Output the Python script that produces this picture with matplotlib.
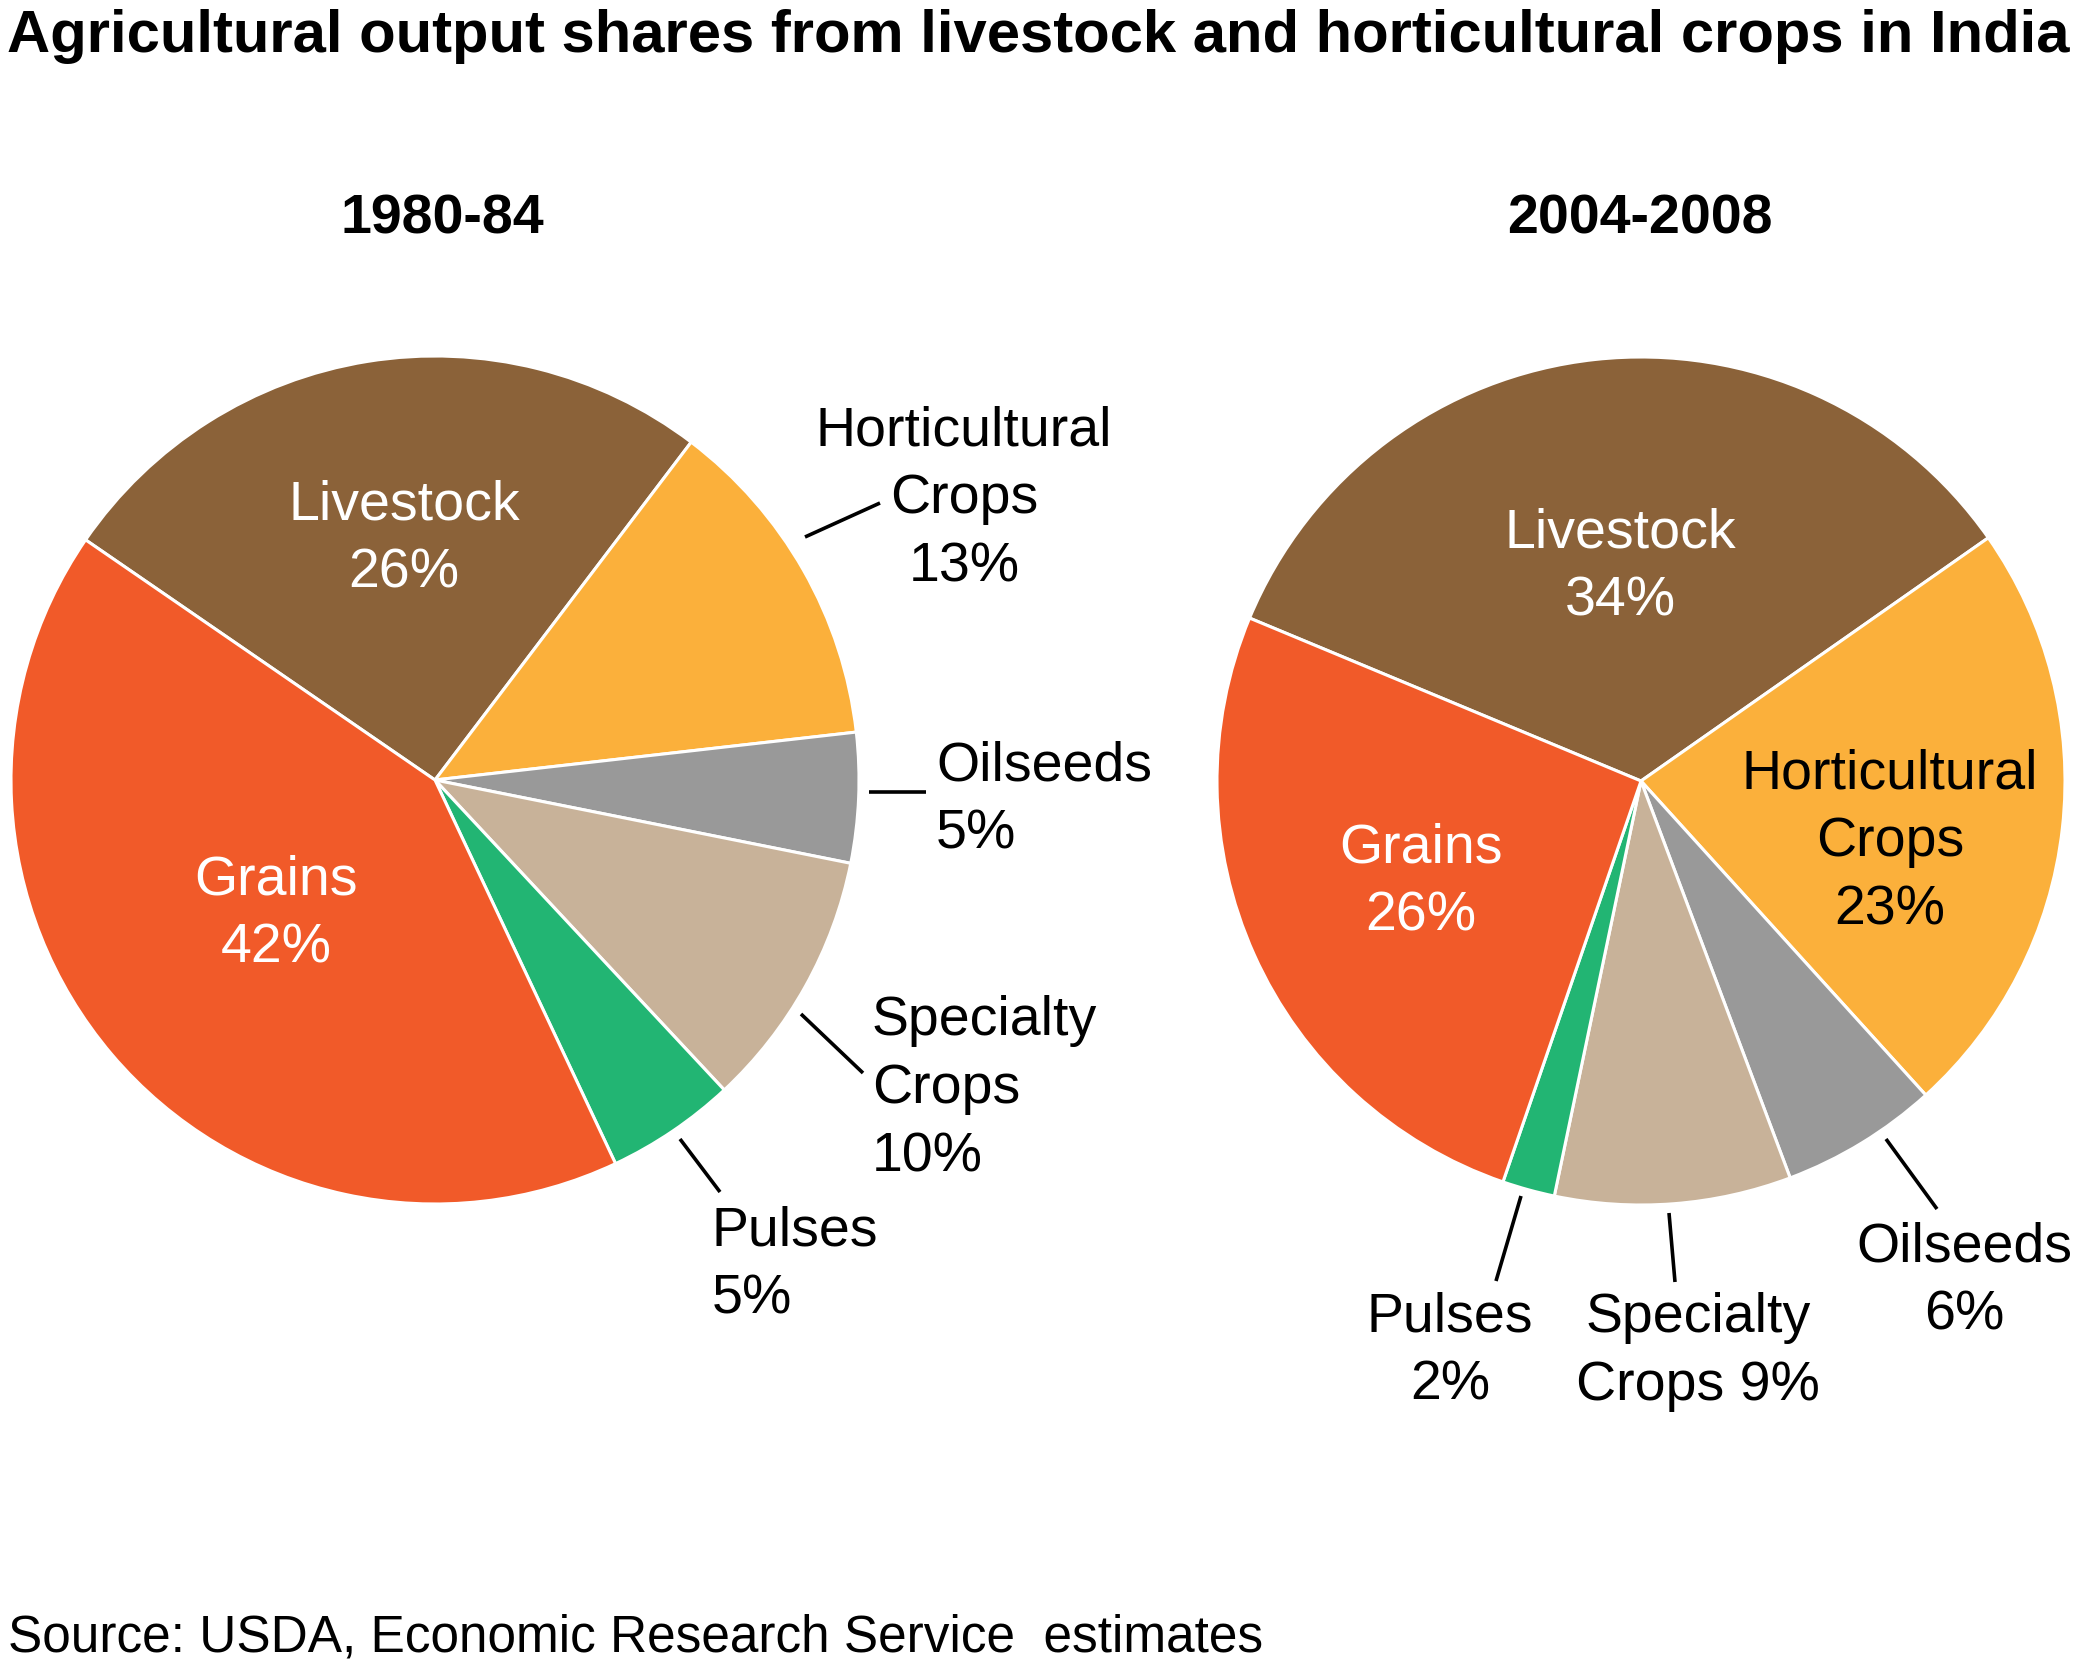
import matplotlib
matplotlib.use("Agg")
import matplotlib.pyplot as plt

plt.rcParams['font.family'] = ['Liberation Sans', 'DejaVu Sans']

# Dados
setores = ['Livestock', 'Horticultural Crops', 'Oilseeds', 'Specialty Crops', 'Pulses', 'Grains']
cores = ['#8B6239', '#FBB03B', '#999999', '#C8B299', '#22B573', '#F15A29']
valores_1980 = [26, 13, 5, 10, 5, 42]
valores_2004 = [34, 23, 6, 9, 2, 26]

W, H = 2079, 1666
fig = plt.figure(figsize=(W / 100, H / 100), dpi=100)
ax = fig.add_axes([0, 0, 1, 1])


def y(v):
    # coordenadas de cima para baixo, em pixels
    return H - v


# Pizzas
ax.pie(valores_1980, colors=cores, startangle=145.5, counterclock=False,
       center=(435, y(780)), radius=424,
       wedgeprops=dict(edgecolor='white', linewidth=2.2))
ax.pie(valores_2004, colors=cores, startangle=157.4, counterclock=False,
       center=(1641, y(781)), radius=424,
       wedgeprops=dict(edgecolor='white', linewidth=2.2))

ax.set_xlim(0, W)
ax.set_ylim(0, H)
ax.set_aspect('equal')
ax.axis('off')

FS = 40
PASSO = 68


def rotulo(linhas, x, base, ha='center', cor='black'):
    for i, t in enumerate(linhas):
        ax.text(x, y(base + i * PASSO), t, ha=ha, va='baseline',
                fontsize=FS, color=cor)


def linha(p1, p2):
    ax.plot([p1[0], p2[0]], [y(p1[1]), y(p2[1])], color='black', lw=2.6,
            solid_capstyle='butt')


# Rótulos 1980-84
rotulo(['Livestock', '%d%%' % valores_1980[0]], 404, 519, cor='white')
rotulo(['Grains', '%d%%' % valores_1980[5]], 276, 894, cor='white')
rotulo(['Horticultural', 'Crops', '%d%%' % valores_1980[1]], 964, 445)
rotulo(['Oilseeds', '%d%%' % valores_1980[2]], 936, 780, ha='left')
rotulo(['Specialty', 'Crops', '%d%%' % valores_1980[3]], 872, 1035, ha='left')
rotulo(['Pulses', '%d%%' % valores_1980[4]], 712, 1245, ha='left')

linha((805, 537), (880, 503))
linha((869, 792), (926, 792))
linha((801, 1014), (863, 1073))
linha((680, 1139), (720, 1192))

# Rótulos 2004-2008
rotulo(['Livestock', '%d%%' % valores_2004[0]], 1620, 547, cor='white')
rotulo(['Grains', '%d%%' % valores_2004[5]], 1421, 862, cor='white')
rotulo(['Horticultural', 'Crops', '%d%%' % valores_2004[1]], 1890, 788)
rotulo(['Oilseeds', '%d%%' % valores_2004[2]], 1964, 1261)
rotulo(['Specialty', 'Crops %d%%' % valores_2004[3]], 1698, 1332)
rotulo(['Pulses', '%d%%' % valores_2004[4]], 1450, 1332)

linha((1521, 1196), (1496, 1281))
linha((1669, 1213), (1675, 1282))
linha((1886, 1139), (1937, 1209))

# Títulos
ax.text(7, y(52), 'Agricultural output shares from livestock and horticultural crops in India',
        ha='left', va='baseline', fontsize=43, fontweight='bold')
ax.text(442, y(233), '1980-84', ha='center', va='baseline', fontsize=FS, fontweight='bold')
ax.text(1640, y(233), '2004-2008', ha='center', va='baseline', fontsize=FS, fontweight='bold')
ax.text(8, y(1652), 'Source: USDA, Economic Research Service  estimates',
        ha='left', va='baseline', fontsize=37)

fig.savefig('out.png', dpi=100, facecolor='white')
